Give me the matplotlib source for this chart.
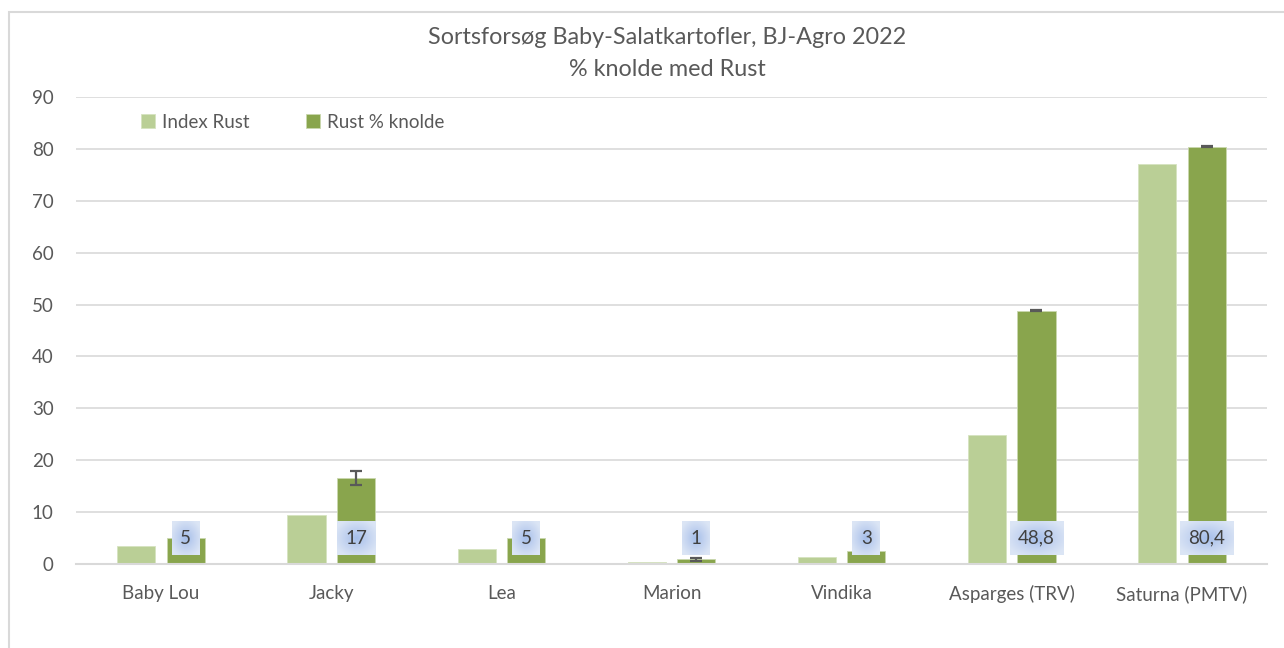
import matplotlib
matplotlib.use("Agg")
import matplotlib.pyplot as plt
from matplotlib.patches import Rectangle
from matplotlib.colors import LinearSegmentedColormap
import numpy as np

# Data
sorter = ["Baby Lou", "Jacky", "Lea", "Marion", "Vindika", "Asparges (TRV)", "Saturna (PMTV)"]
index_rust = [3.4, 9.4, 2.9, 0.3, 1.4, 24.9, 77.0]
rust_knolde = [5.0, 16.6, 5.0, 0.9, 2.6, 48.8, 80.4]
rust_fejl = [0.3, 1.4, 0.3, 0.3, 0.3, 0.1, 0.1]
etiketter = ["5", "17", "5", "1", "3", "48,8", "80,4"]

LYS = "#bacf96"
MORK = "#89a54d"
GRAA = "#595959"
GRID = "#d9d9d9"

plt.rcParams["font.family"] = ["Lato", "DejaVu Sans"]

fig = plt.figure(figsize=(12.84, 6.48), dpi=100)
ax = fig.add_axes([76 / 1284, 1 - 564 / 648, 1191 / 1284, 467 / 648])

x = np.arange(len(sorter))
b = 0.224
off = 0.145
ax.bar(x - off, index_rust, width=b, color=LYS, edgecolor="#d6e3c0", linewidth=0.6,
       label="Index Rust", zorder=2)
ax.bar(x + off, rust_knolde, width=b, color=MORK, edgecolor="#c9d8ae", linewidth=0.6,
       label="Rust % knolde", zorder=2)
ax.errorbar(x + off, rust_knolde, yerr=rust_fejl, fmt="none", ecolor=GRAA,
            elinewidth=1.6, capsize=4.5, capthick=1.6, zorder=3)

ax.set_xlim(-0.5, len(sorter) - 0.5)
ax.set_ylim(0, 90)
ax.set_yticks(range(0, 91, 10))
ax.set_xticks(x)
ax.set_xticklabels(sorter)
ax.tick_params(axis="both", length=0, colors=GRAA, labelsize=13.5)
ax.tick_params(axis="y", pad=16)
ax.tick_params(axis="x", pad=15)
ax.grid(axis="y", color=GRID, linewidth=1.2, zorder=0)
ax.set_axisbelow(True)
for s in ["top", "right", "left"]:
    ax.spines[s].set_visible(False)
ax.spines["bottom"].set_color(GRID)
ax.spines["bottom"].set_linewidth(1.5)

ax.legend(loc="upper left", bbox_to_anchor=(0.04, 1.0), ncol=2, frameon=False,
          fontsize=13.5, labelcolor=GRAA, handlelength=0.75, handleheight=0.75,
          handletextpad=0.4, columnspacing=3.0)

fig.text(667 / 1284, 1 - 37 / 648, "Sortsforsøg Baby-Salatkartofler, BJ-Agro 2022",
         ha="center", va="center", fontsize=16.8, color=GRAA)
fig.text(667 / 1284, 1 - 69 / 648, "% knolde med Rust",
         ha="center", va="center", fontsize=16.8, color=GRAA)

# dataetiketter i bunden af søjlerne, med blaa radial toning bag
tekster = []
for xi, lab in zip(x, etiketter):
    t = ax.text(xi + off, 5.0, lab, ha="center", va="center", fontsize=13.5,
                color="#404040", zorder=5,
                bbox=dict(boxstyle="square,pad=0.45", facecolor="none", edgecolor="none"))
    tekster.append(t)

fig.canvas.draw()
cmap = LinearSegmentedColormap.from_list("toning", ["#a6bfea", "#c3d3f0", "#dbe5f5"])
gy, gx = np.mgrid[-1:1:40j, -1:1:60j]
r = np.clip(np.sqrt(gx ** 2 + gy ** 2) / 1.2, 0, 1)
inv = ax.transData.inverted()
for t in tekster:
    bb = t.get_bbox_patch().get_window_extent()
    (x0, y0), (x1, y1) = inv.transform([(bb.x0, bb.y0), (bb.x1, bb.y1)])
    ax.imshow(r, cmap=cmap, extent=(x0, x1, y0, y1), aspect="auto", zorder=4,
              interpolation="bilinear", origin="lower")
ax.set_xlim(-0.5, len(sorter) - 0.5)
ax.set_ylim(0, 90)

# ramme om diagrammet
fig.patches.append(Rectangle((8.5 / 1284, -0.1), 2, 1 - 12.5 / 648 + 0.1,
                             transform=fig.transFigure, facecolor="none",
                             edgecolor=GRID, linewidth=1.5))

fig.savefig("out.png", dpi=100)
